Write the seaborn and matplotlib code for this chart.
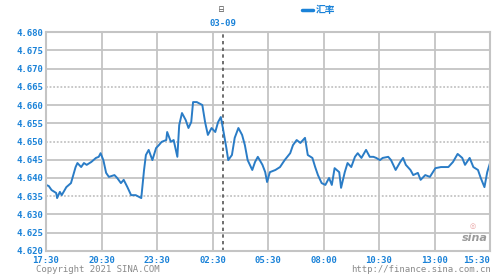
import numpy as np
import pandas as pd
import matplotlib
matplotlib.use("Agg")
import matplotlib.pyplot as plt
import seaborn as sns

# sample index (0..480 spans the full session) and exchange rate
pos = [0, 3, 6, 11, 12, 15, 17, 22, 27, 32, 34, 38, 41, 44, 49, 54, 57, 59, 62, 65,
       68, 74, 77, 81, 84, 88, 92, 97, 103, 106, 108, 111, 115, 119, 122, 125, 130, 131, 135, 138,
       142, 144, 147, 151, 154, 157, 159, 163, 169, 172, 175, 179, 183, 186, 189, 191, 195, 197, 201, 204,
       208, 212, 215, 218, 223, 226, 229, 234, 237, 239, 242, 248, 253, 258, 264, 267, 271, 275, 280, 283,
       288, 291, 294, 298, 302, 306, 309, 312, 317, 319, 323, 326, 330, 334, 337, 341, 346, 350, 354, 357,
       361, 364, 370, 373, 378, 383, 386, 389, 394, 397, 402, 405, 410, 415, 421, 427, 435, 440, 445, 450,
       453, 458, 462, 467, 470, 474, 477, 480]
rate = [4.6381, 4.6378, 4.6367, 4.6359, 4.6345, 4.6362, 4.6353, 4.6375, 4.6386, 4.6430,
        4.6441, 4.6430, 4.6441, 4.6436, 4.6444, 4.6455, 4.6458, 4.6468, 4.6449, 4.6414,
        4.6403, 4.6408, 4.6400, 4.6386, 4.6395, 4.6375, 4.6353, 4.6353, 4.6345, 4.6422,
        4.6463, 4.6477, 4.6449, 4.6482, 4.6490, 4.6499, 4.6504, 4.6526, 4.6499, 4.6504,
        4.6458, 4.6545, 4.6578, 4.6559, 4.6537, 4.6553, 4.6608, 4.6608, 4.6600, 4.6553,
        4.6518, 4.6537, 4.6526, 4.6553, 4.6567, 4.6540, 4.6482, 4.6449, 4.6463, 4.6510,
        4.6537, 4.6518, 4.6490, 4.6449, 4.6422, 4.6444, 4.6458, 4.6436, 4.6416, 4.6389,
        4.6416, 4.6422, 4.6430, 4.6449, 4.6468, 4.6490, 4.6504, 4.6496, 4.6510, 4.6463,
        4.6455, 4.6430, 4.6408, 4.6386, 4.6381, 4.6400, 4.6381, 4.6427, 4.6416, 4.6373,
        4.6416, 4.6441, 4.6430, 4.6458, 4.6468, 4.6455, 4.6477, 4.6458, 4.6458, 4.6455,
        4.6449, 4.6455, 4.6458, 4.6449, 4.6422, 4.6444, 4.6455, 4.6436, 4.6422, 4.6408,
        4.6414, 4.6395, 4.6408, 4.6403, 4.6427, 4.6430, 4.6430, 4.6444, 4.6466, 4.6455,
        4.6436, 4.6455, 4.6430, 4.6422, 4.6400, 4.6375, 4.6416, 4.6441]

x_tick_pos = [0, 60, 120, 180, 240, 300, 360, 420, 480]
x_tick_labels = ["17:30", "20:30", "23:30", "02:30", "05:30", "08:00", "10:30", "13:00", "15:30"]
y_ticks = [4.620, 4.625, 4.630, 4.635, 4.640, 4.645, 4.650, 4.655, 4.660, 4.665, 4.670, 4.675, 4.680]
dotted_levels = [4.635, 4.650, 4.665]
day_break = 191
day_label = "03-09"
series_name = "汇率"

df = pd.DataFrame({"pos": pos, "rate": rate})

sns.set_style("white")
plt.rcParams['font.family'] = ['DejaVu Sans Mono', 'Noto Sans CJK SC', 'DejaVu Sans']

fig = plt.figure(figsize=(5.0, 2.75), dpi=100)
fig.patch.set_facecolor("white")
ax = fig.add_axes([0.092, 0.0873, 0.888, 0.7963])

blue = "#1a82d8"
line_c = "#2a7cc6"
grid_c = "#c4c4c4"

sns.lineplot(data=df, x="pos", y="rate", ax=ax, color=line_c, linewidth=1.4)

ax.set_xlim(0, 480)
ax.set_ylim(4.620, 4.680)

for yv in y_ticks:
    if abs(yv - 4.620) < 1e-9 or abs(yv - 4.680) < 1e-9:
        continue
    ls = (0, (1, 1)) if any(abs(yv - d) < 1e-9 for d in dotted_levels) else "-"
    ax.axhline(yv, color=grid_c, linewidth=1.3, linestyle=ls, zorder=0)
for xv in x_tick_pos[1:-1]:
    ax.axvline(xv, color=grid_c, linewidth=1.3, zorder=0)
ax.axvline(day_break, color="#555555", linewidth=1.2, linestyle=(0, (2, 2)), zorder=1)

for s in ax.spines.values():
    s.set_color(grid_c)
    s.set_linewidth(1.5)

ax.set_xticks(x_tick_pos)
ax.set_xticklabels(x_tick_labels)
ax.set_yticks(y_ticks)
ax.set_yticklabels([f"{v:.3f}" for v in y_ticks])
ax.tick_params(axis="both", length=0, labelsize=6.5, labelcolor=blue)
ax.tick_params(axis="x", pad=3.5)
ax.tick_params(axis="y", pad=2)
for lab in ax.get_xticklabels() + ax.get_yticklabels():
    lab.set_fontweight("bold")
ax.get_xticklabels()[-1].set_horizontalalignment("right")
ax.set_xlabel("")
ax.set_ylabel("")

# top annotations
fig.text(223 / 500, 1 - 23 / 275, day_label, color=blue, fontsize=6.5, fontweight="bold",
         ha="center", va="center")
fig.text(221 / 500, 1 - 10 / 275, "日", color="#555555", fontsize=5,
         ha="center", va="center", family=['Noto Sans CJK SC', 'DejaVu Sans'])
fig.lines.append(plt.Line2D([302 / 500, 313 / 500], [1 - 10 / 275, 1 - 10 / 275],
                            transform=fig.transFigure, color=blue, linewidth=2.5))
fig.text(316 / 500, 1 - 10 / 275, series_name, color=blue, fontsize=7, fontweight="bold",
         ha="left", va="center", family=['Noto Sans CJK SC', 'DejaVu Sans'])

# footer
fig.text(36 / 500, 1 - 269 / 275, "Copyright 2021 SINA.COM", color="#8a8a8a", fontsize=6.5,
         ha="left", va="center")
fig.text(491 / 500, 1 - 269 / 275, "http://finance.sina.com.cn", color="#8a8a8a", fontsize=6.5,
         ha="right", va="center")

# sina watermark
ax.text(0.965, 0.06, "sina", transform=ax.transAxes, color="#9a9a9a", fontsize=8,
        fontstyle="italic", fontweight="bold", ha="center", va="center", family="DejaVu Sans")
ax.text(0.962, 0.115, "◎", transform=ax.transAxes, color="#e8a0a0", fontsize=5,
        ha="center", va="center", family="DejaVu Sans")

fig.savefig("out.png", dpi=100, facecolor="white")
